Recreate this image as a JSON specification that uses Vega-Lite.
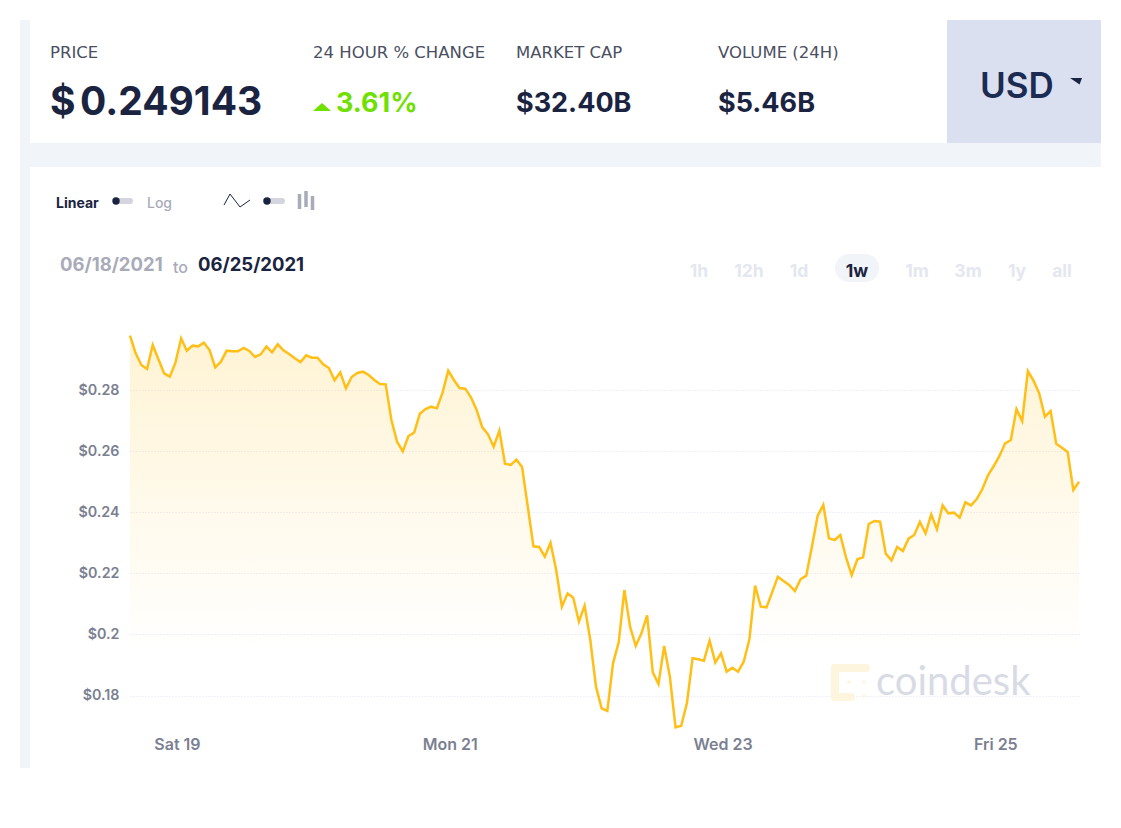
{
  "$schema": "https://vega.github.io/schema/vega-lite/v6.json",
  "width": 949,
  "height": 400,
  "autosize": "none",
  "padding": {"left": 130, "top": 330, "right": 42, "bottom": 98},
  "background": "white",
  "config": {"view": {"stroke": null}, "font": "Inter"},
  "datasets": {
    "page": [
      {"item": "strip", "kind": "panel"},
      {"item": "band", "kind": "panel"},
      {"item": "usdBox", "kind": "panel"},
      {"item": "scaleTrack", "kind": "track"},
      {"item": "typeTrack", "kind": "track"},
      {"item": "pill", "kind": "pill"},
      {"item": "bar1", "kind": "bars"},
      {"item": "bar2", "kind": "bars"},
      {"item": "bar3", "kind": "bars"},
      {"item": "logoTop", "kind": "logo"},
      {"item": "logoLeft", "kind": "logo"},
      {"item": "logoBottom", "kind": "logo"},
      {"item": "logoDot1", "kind": "logoDot"},
      {"item": "logoDot2", "kind": "logoDot"},
      {"item": "logoDot3", "kind": "logoDot"},
      {"item": "scaleDot", "kind": "dot"},
      {"item": "typeDot", "kind": "dot"},
      {"item": "changeUp", "kind": "up"},
      {"item": "usdCaret", "kind": "caret"},
      {"item": "lineIcon1", "kind": "lineIcon"},
      {"item": "lineIcon2", "kind": "lineIcon"},
      {"item": "lineIcon3", "kind": "lineIcon"},
      {"item": "lineIcon4", "kind": "lineIcon"},
      {"item": "PRICE", "kind": "statLabel"},
      {"item": "24 HOUR % CHANGE", "kind": "statLabel"},
      {"item": "MARKET CAP", "kind": "statLabel"},
      {"item": "VOLUME (24H)", "kind": "statLabel"},
      {"item": "$", "kind": "statPrice"},
      {"item": "0.249143", "kind": "statPrice"},
      {"item": "3.61%", "kind": "statChange"},
      {"item": "$32.40B", "kind": "statValue"},
      {"item": "$5.46B", "kind": "statValue"},
      {"item": "USD", "kind": "usd"},
      {"item": "Linear", "kind": "toggleOn"},
      {"item": "Log", "kind": "toggleOff"},
      {"item": "06/18/2021", "kind": "dateFrom"},
      {"item": "to", "kind": "dateTo"},
      {"item": "06/25/2021", "kind": "dateUntil"},
      {"item": "1h", "kind": "tab"},
      {"item": "12h", "kind": "tab"},
      {"item": "1d", "kind": "tab"},
      {"item": "1w", "kind": "tabOn"},
      {"item": "1m", "kind": "tab"},
      {"item": "3m", "kind": "tab"},
      {"item": "1y", "kind": "tab"},
      {"item": "all", "kind": "tab"},
      {"item": "coindesk", "kind": "logoText"}
    ],
    "price": [
      {"time": "2021-06-18T15:44:00Z", "price": 0.29779},
      {"time": "2021-06-18T16:44:00Z", "price": 0.2920},
      {"time": "2021-06-18T17:44:00Z", "price": 0.28818},
      {"time": "2021-06-18T18:44:00Z", "price": 0.28687},
      {"time": "2021-06-18T19:44:00Z", "price": 0.29473},
      {"time": "2021-06-18T20:44:00Z", "price": 0.29004},
      {"time": "2021-06-18T21:44:00Z", "price": 0.28546},
      {"time": "2021-06-18T22:44:00Z", "price": 0.28436},
      {"time": "2021-06-18T23:44:00Z", "price": 0.28895},
      {"time": "2021-06-19T00:44:00Z", "price": 0.29691},
      {"time": "2021-06-19T01:44:00Z", "price": 0.29287},
      {"time": "2021-06-19T02:44:00Z", "price": 0.29451},
      {"time": "2021-06-19T03:44:00Z", "price": 0.29429},
      {"time": "2021-06-19T04:44:00Z", "price": 0.29549},
      {"time": "2021-06-19T05:44:00Z", "price": 0.29309},
      {"time": "2021-06-19T06:44:00Z", "price": 0.28742},
      {"time": "2021-06-19T07:44:00Z", "price": 0.28927},
      {"time": "2021-06-19T08:44:00Z", "price": 0.29287},
      {"time": "2021-06-19T09:44:00Z", "price": 0.29266},
      {"time": "2021-06-19T10:44:00Z", "price": 0.29266},
      {"time": "2021-06-19T11:44:00Z", "price": 0.29375},
      {"time": "2021-06-19T12:44:00Z", "price": 0.29277},
      {"time": "2021-06-19T13:44:00Z", "price": 0.2908},
      {"time": "2021-06-19T14:44:00Z", "price": 0.29167},
      {"time": "2021-06-19T15:44:00Z", "price": 0.29429},
      {"time": "2021-06-19T16:44:00Z", "price": 0.29233},
      {"time": "2021-06-19T17:44:00Z", "price": 0.29495},
      {"time": "2021-06-19T18:44:00Z", "price": 0.29298},
      {"time": "2021-06-19T19:44:00Z", "price": 0.29178},
      {"time": "2021-06-19T20:44:00Z", "price": 0.29037},
      {"time": "2021-06-19T21:44:00Z", "price": 0.28917},
      {"time": "2021-06-19T22:44:00Z", "price": 0.29135},
      {"time": "2021-06-19T23:44:00Z", "price": 0.29058},
      {"time": "2021-06-20T00:44:00Z", "price": 0.29058},
      {"time": "2021-06-20T01:44:00Z", "price": 0.2884},
      {"time": "2021-06-20T02:44:00Z", "price": 0.2872},
      {"time": "2021-06-20T03:44:00Z", "price": 0.28316},
      {"time": "2021-06-20T04:44:00Z", "price": 0.28578},
      {"time": "2021-06-20T05:44:00Z", "price": 0.28055},
      {"time": "2021-06-20T06:44:00Z", "price": 0.28426},
      {"time": "2021-06-20T07:44:00Z", "price": 0.28556},
      {"time": "2021-06-20T08:44:00Z", "price": 0.286},
      {"time": "2021-06-20T09:44:00Z", "price": 0.28491},
      {"time": "2021-06-20T10:44:00Z", "price": 0.28327},
      {"time": "2021-06-20T11:44:00Z", "price": 0.28196},
      {"time": "2021-06-20T12:44:00Z", "price": 0.28185},
      {"time": "2021-06-20T13:44:00Z", "price": 0.27018},
      {"time": "2021-06-20T14:44:00Z", "price": 0.26309},
      {"time": "2021-06-20T15:44:00Z", "price": 0.25992},
      {"time": "2021-06-20T16:44:00Z", "price": 0.26494},
      {"time": "2021-06-20T17:44:00Z", "price": 0.26603},
      {"time": "2021-06-20T18:44:00Z", "price": 0.27225},
      {"time": "2021-06-20T19:44:00Z", "price": 0.27378},
      {"time": "2021-06-20T20:44:00Z", "price": 0.27454},
      {"time": "2021-06-20T21:44:00Z", "price": 0.274},
      {"time": "2021-06-20T22:44:00Z", "price": 0.27913},
      {"time": "2021-06-20T23:44:00Z", "price": 0.28633},
      {"time": "2021-06-21T00:44:00Z", "price": 0.28327},
      {"time": "2021-06-21T01:44:00Z", "price": 0.28065},
      {"time": "2021-06-21T02:44:00Z", "price": 0.28044},
      {"time": "2021-06-21T03:44:00Z", "price": 0.2776},
      {"time": "2021-06-21T04:44:00Z", "price": 0.27345},
      {"time": "2021-06-21T05:44:00Z", "price": 0.26778},
      {"time": "2021-06-21T06:44:00Z", "price": 0.26549},
      {"time": "2021-06-21T07:44:00Z", "price": 0.26145},
      {"time": "2021-06-21T08:44:00Z", "price": 0.26669},
      {"time": "2021-06-21T09:44:00Z", "price": 0.25589},
      {"time": "2021-06-21T10:44:00Z", "price": 0.25545},
      {"time": "2021-06-21T11:44:00Z", "price": 0.2572},
      {"time": "2021-06-21T12:44:00Z", "price": 0.2548},
      {"time": "2021-06-21T13:44:00Z", "price": 0.24181},
      {"time": "2021-06-21T14:44:00Z", "price": 0.22883},
      {"time": "2021-06-21T15:44:00Z", "price": 0.22861},
      {"time": "2021-06-21T16:44:00Z", "price": 0.22544},
      {"time": "2021-06-21T17:44:00Z", "price": 0.23003},
      {"time": "2021-06-21T18:44:00Z", "price": 0.22108},
      {"time": "2021-06-21T19:44:00Z", "price": 0.20908},
      {"time": "2021-06-21T20:44:00Z", "price": 0.21344},
      {"time": "2021-06-21T21:44:00Z", "price": 0.21202},
      {"time": "2021-06-21T22:44:00Z", "price": 0.20417},
      {"time": "2021-06-21T23:44:00Z", "price": 0.2094},
      {"time": "2021-06-22T00:44:00Z", "price": 0.19817},
      {"time": "2021-06-22T01:44:00Z", "price": 0.18289},
      {"time": "2021-06-22T02:44:00Z", "price": 0.1758},
      {"time": "2021-06-22T03:44:00Z", "price": 0.17493},
      {"time": "2021-06-22T04:44:00Z", "price": 0.19053},
      {"time": "2021-06-22T05:44:00Z", "price": 0.1974},
      {"time": "2021-06-22T06:44:00Z", "price": 0.21453},
      {"time": "2021-06-22T07:44:00Z", "price": 0.20253},
      {"time": "2021-06-22T08:44:00Z", "price": 0.1962},
      {"time": "2021-06-22T09:44:00Z", "price": 0.20035},
      {"time": "2021-06-22T10:44:00Z", "price": 0.20624},
      {"time": "2021-06-22T11:44:00Z", "price": 0.18758},
      {"time": "2021-06-22T12:44:00Z", "price": 0.18376},
      {"time": "2021-06-22T13:44:00Z", "price": 0.1962},
      {"time": "2021-06-22T14:44:00Z", "price": 0.18616},
      {"time": "2021-06-22T15:44:00Z", "price": 0.16958},
      {"time": "2021-06-22T16:44:00Z", "price": 0.17012},
      {"time": "2021-06-22T17:44:00Z", "price": 0.17744},
      {"time": "2021-06-22T18:44:00Z", "price": 0.19217},
      {"time": "2021-06-22T19:44:00Z", "price": 0.19184},
      {"time": "2021-06-22T20:44:00Z", "price": 0.1914},
      {"time": "2021-06-22T21:44:00Z", "price": 0.19795},
      {"time": "2021-06-22T22:44:00Z", "price": 0.19075},
      {"time": "2021-06-22T23:44:00Z", "price": 0.1938},
      {"time": "2021-06-23T00:44:00Z", "price": 0.1878},
      {"time": "2021-06-23T01:44:00Z", "price": 0.18911},
      {"time": "2021-06-23T02:44:00Z", "price": 0.1878},
      {"time": "2021-06-23T03:44:00Z", "price": 0.19107},
      {"time": "2021-06-23T04:44:00Z", "price": 0.19839},
      {"time": "2021-06-23T05:44:00Z", "price": 0.21595},
      {"time": "2021-06-23T06:44:00Z", "price": 0.20908},
      {"time": "2021-06-23T07:44:00Z", "price": 0.20886},
      {"time": "2021-06-23T08:44:00Z", "price": 0.21377},
      {"time": "2021-06-23T09:44:00Z", "price": 0.2189},
      {"time": "2021-06-23T10:44:00Z", "price": 0.21748},
      {"time": "2021-06-23T11:44:00Z", "price": 0.21617},
      {"time": "2021-06-23T12:44:00Z", "price": 0.21421},
      {"time": "2021-06-23T13:44:00Z", "price": 0.21803},
      {"time": "2021-06-23T14:44:00Z", "price": 0.21923},
      {"time": "2021-06-23T15:44:00Z", "price": 0.22872},
      {"time": "2021-06-23T16:44:00Z", "price": 0.23876},
      {"time": "2021-06-23T17:44:00Z", "price": 0.24236},
      {"time": "2021-06-23T18:44:00Z", "price": 0.23145},
      {"time": "2021-06-23T19:44:00Z", "price": 0.2309},
      {"time": "2021-06-23T20:44:00Z", "price": 0.23254},
      {"time": "2021-06-23T21:44:00Z", "price": 0.22523},
      {"time": "2021-06-23T22:44:00Z", "price": 0.21944},
      {"time": "2021-06-23T23:44:00Z", "price": 0.22457},
      {"time": "2021-06-24T00:44:00Z", "price": 0.22523},
      {"time": "2021-06-24T01:44:00Z", "price": 0.23614},
      {"time": "2021-06-24T02:44:00Z", "price": 0.23712},
      {"time": "2021-06-24T03:44:00Z", "price": 0.2369},
      {"time": "2021-06-24T04:44:00Z", "price": 0.22643},
      {"time": "2021-06-24T05:44:00Z", "price": 0.22424},
      {"time": "2021-06-24T06:44:00Z", "price": 0.22861},
      {"time": "2021-06-24T07:44:00Z", "price": 0.2273},
      {"time": "2021-06-24T08:44:00Z", "price": 0.23134},
      {"time": "2021-06-24T09:44:00Z", "price": 0.23254},
      {"time": "2021-06-24T10:44:00Z", "price": 0.23679},
      {"time": "2021-06-24T11:44:00Z", "price": 0.23308},
      {"time": "2021-06-24T12:44:00Z", "price": 0.2393},
      {"time": "2021-06-24T13:44:00Z", "price": 0.23439},
      {"time": "2021-06-24T14:44:00Z", "price": 0.24225},
      {"time": "2021-06-24T15:44:00Z", "price": 0.23963},
      {"time": "2021-06-24T16:44:00Z", "price": 0.23985},
      {"time": "2021-06-24T17:44:00Z", "price": 0.23821},
      {"time": "2021-06-24T18:44:00Z", "price": 0.24323},
      {"time": "2021-06-24T19:44:00Z", "price": 0.24225},
      {"time": "2021-06-24T20:44:00Z", "price": 0.24432},
      {"time": "2021-06-24T21:44:00Z", "price": 0.24759},
      {"time": "2021-06-24T22:44:00Z", "price": 0.25218},
      {"time": "2021-06-24T23:44:00Z", "price": 0.25512},
      {"time": "2021-06-25T00:44:00Z", "price": 0.2584},
      {"time": "2021-06-25T01:44:00Z", "price": 0.26254},
      {"time": "2021-06-25T02:44:00Z", "price": 0.26363},
      {"time": "2021-06-25T03:44:00Z", "price": 0.27378},
      {"time": "2021-06-25T04:44:00Z", "price": 0.26985},
      {"time": "2021-06-25T05:44:00Z", "price": 0.28622},
      {"time": "2021-06-25T06:44:00Z", "price": 0.28306},
      {"time": "2021-06-25T07:44:00Z", "price": 0.27891},
      {"time": "2021-06-25T08:44:00Z", "price": 0.27127},
      {"time": "2021-06-25T09:44:00Z", "price": 0.27313},
      {"time": "2021-06-25T10:44:00Z", "price": 0.26243},
      {"time": "2021-06-25T11:44:00Z", "price": 0.26112},
      {"time": "2021-06-25T12:44:00Z", "price": 0.25971},
      {"time": "2021-06-25T13:44:00Z", "price": 0.24727},
      {"time": "2021-06-25T14:44:00Z", "price": 0.24999}
    ]
  },
  "layer": [
    {
      "data": {"name": "page"},
      "transform": [
        {
          "calculate": "{'strip':[20,20,30,768],'band':[30,143,1101,167],'usdBox':[947,20,1101,143],'scaleTrack':[116,201,130,201],'typeTrack':[266,201,282,201],'pill':[849,268,865,268],'bar1':[299.5,194,299.5,209],'bar2':[306,191,306,207],'bar3':[312.5,196,312.5,210],'logoTop':[835,668,866,668],'logoLeft':[835,668,835,697],'logoBottom':[835,697,851,697],'logoDot1':[849,682],'logoDot2':[864,682],'logoDot3':[864,696],'scaleDot':[116,201],'typeDot':[267,201],'changeUp':[322,107],'usdCaret':[1076,81],'lineIcon1':[224,205],'lineIcon2':[230,194],'lineIcon3':[240,207],'lineIcon4':[250,200],'PRICE':[50,53],'24 HOUR % CHANGE':[313,53],'MARKET CAP':[516,53],'VOLUME (24H)':[718,53],'$':[50,103],'0.249143':[80,103],'3.61%':[336,104],'$32.40B':[516,104],'$5.46B':[718,104],'USD':[980,87],'Linear':[56,204],'Log':[147,204],'06/18/2021':[60,265],'to':[173,268],'06/25/2021':[198,265],'1h':[699,272],'12h':[749,272],'1d':[799,272],'1w':[857,272],'1m':[917,272],'3m':[968,272],'1y':[1017,272],'all':[1062,272],'coindesk':[876,695]}[datum.item]",
          "as": "layout"
        },
        {"calculate": "datum.layout[0]", "as": "px"},
        {"calculate": "datum.layout[1]", "as": "py"},
        {"calculate": "datum.layout[2]", "as": "px2"},
        {"calculate": "datum.layout[3]", "as": "py2"}
      ],
      "encoding": {
        "x": {"field": "px", "type": "quantitative", "axis": null, "scale": {"domain": [0, 1121], "range": [-130, 991], "nice": false, "zero": false}},
        "y": {"field": "py", "type": "quantitative", "axis": null, "scale": {"domain": [0, 828], "range": [-330, 498], "nice": false, "zero": false}}
      },
      "layer": [
        {
          "transform": [{"filter": "datum.kind == 'panel'"}],
          "mark": {"type": "rect"},
          "encoding": {
            "x2": {"field": "px2"},
            "y2": {"field": "py2"},
            "color": {"field": "item", "type": "nominal", "legend": null, "scale": {"domain": ["strip", "band", "usdBox"], "range": ["#f1f4f9", "#f1f4f9", "#dbe0f1"]}}
          }
        },
        {
          "transform": [{"filter": "datum.kind == 'track'"}],
          "mark": {"type": "rule", "color": "#d4d5de", "strokeWidth": 6, "strokeCap": "round"},
          "encoding": {"x2": {"field": "px2"}, "y2": {"field": "py2"}}
        },
        {
          "transform": [{"filter": "datum.kind == 'pill'"}],
          "mark": {"type": "rule", "color": "#f1f4f9", "strokeWidth": 28, "strokeCap": "round"},
          "encoding": {"x2": {"field": "px2"}, "y2": {"field": "py2"}}
        },
        {
          "transform": [{"filter": "datum.kind == 'bars'"}],
          "mark": {"type": "rule", "color": "#a9abb9", "strokeWidth": 3.5},
          "encoding": {"x2": {"field": "px2"}, "y2": {"field": "py2"}}
        },
        {
          "transform": [{"filter": "datum.kind == 'logo'"}],
          "mark": {"type": "rule", "color": "#fef5de", "strokeWidth": 8, "strokeCap": "round"},
          "encoding": {"x2": {"field": "px2"}, "y2": {"field": "py2"}}
        },
        {
          "transform": [{"filter": "datum.kind == 'logoDot'"}],
          "mark": {"type": "point", "shape": "circle", "filled": true, "color": "#fef5de", "opacity": 1, "size": 14}
        },
        {
          "transform": [{"filter": "datum.kind == 'dot'"}],
          "mark": {"type": "point", "shape": "circle", "filled": true, "color": "#1a2340", "opacity": 1, "size": 55}
        },
        {
          "transform": [{"filter": "datum.kind == 'up'"}],
          "mark": {"type": "point", "shape": "M-1,0.45L0,-0.45L1,0.45Z", "filled": true, "color": "#6fe000", "opacity": 1, "size": 324}
        },
        {
          "transform": [{"filter": "datum.kind == 'caret'"}],
          "mark": {"type": "point", "shape": "M-1,-0.5L1,-0.5L0.6,0.6Z", "filled": true, "color": "#1a2340", "opacity": 1, "size": 144}
        },
        {
          "transform": [{"filter": "datum.kind == 'lineIcon'"}],
          "mark": {"type": "line", "color": "#1a2340", "strokeWidth": 1}
        },
        {
          "transform": [{"filter": "datum.kind == 'statLabel'"}],
          "mark": {"type": "text", "align": "left", "baseline": "middle", "font": "DejaVu Sans", "fontSize": 16.5, "color": "#4a4f62"},
          "encoding": {"text": {"field": "item"}}
        },
        {
          "transform": [{"filter": "datum.kind == 'statPrice'"}],
          "mark": {"type": "text", "align": "left", "baseline": "middle", "fontSize": 39, "fontWeight": 700, "color": "#1a2340"},
          "encoding": {"text": {"field": "item"}}
        },
        {
          "transform": [{"filter": "datum.kind == 'statChange'"}],
          "mark": {"type": "text", "align": "left", "baseline": "middle", "fontSize": 27, "fontWeight": 700, "color": "#6fe000"},
          "encoding": {"text": {"field": "item"}}
        },
        {
          "transform": [{"filter": "datum.kind == 'statValue'"}],
          "mark": {"type": "text", "align": "left", "baseline": "middle", "fontSize": 27, "fontWeight": 700, "color": "#1a2340"},
          "encoding": {"text": {"field": "item"}}
        },
        {
          "transform": [{"filter": "datum.kind == 'usd'"}],
          "mark": {"type": "text", "align": "left", "baseline": "middle", "fontSize": 35, "fontWeight": 600, "color": "#1c2b52"},
          "encoding": {"text": {"field": "item"}}
        },
        {
          "transform": [{"filter": "datum.kind == 'toggleOn'"}],
          "mark": {"type": "text", "align": "left", "baseline": "middle", "fontSize": 14, "fontWeight": 700, "color": "#1a2340"},
          "encoding": {"text": {"field": "item"}}
        },
        {
          "transform": [{"filter": "datum.kind == 'toggleOff'"}],
          "mark": {"type": "text", "align": "left", "baseline": "middle", "fontSize": 14, "fontWeight": 500, "color": "#a9abb9"},
          "encoding": {"text": {"field": "item"}}
        },
        {
          "transform": [{"filter": "datum.kind == 'dateFrom'"}],
          "mark": {"type": "text", "align": "left", "baseline": "middle", "fontSize": 18.5, "fontWeight": 700, "color": "#a9abb9"},
          "encoding": {"text": {"field": "item"}}
        },
        {
          "transform": [{"filter": "datum.kind == 'dateTo'"}],
          "mark": {"type": "text", "align": "left", "baseline": "middle", "fontSize": 16, "fontWeight": 500, "color": "#a9abb9"},
          "encoding": {"text": {"field": "item"}}
        },
        {
          "transform": [{"filter": "datum.kind == 'dateUntil'"}],
          "mark": {"type": "text", "align": "left", "baseline": "middle", "fontSize": 18.5, "fontWeight": 700, "color": "#1a2340"},
          "encoding": {"text": {"field": "item"}}
        },
        {
          "transform": [{"filter": "datum.kind == 'tab'"}],
          "mark": {"type": "text", "align": "center", "baseline": "middle", "fontSize": 17.5, "fontWeight": 700, "color": "#e4e7ef"},
          "encoding": {"text": {"field": "item"}}
        },
        {
          "transform": [{"filter": "datum.kind == 'tabOn'"}],
          "mark": {"type": "text", "align": "center", "baseline": "middle", "fontSize": 17.5, "fontWeight": 700, "color": "#1a2340"},
          "encoding": {"text": {"field": "item"}}
        },
        {
          "transform": [{"filter": "datum.kind == 'logoText'"}],
          "mark": {"type": "text", "align": "left", "baseline": "alphabetic", "font": "Lato", "fontSize": 40, "color": "#d8dbe5"},
          "encoding": {"text": {"field": "item"}}
        }
      ]
    },
    {
      "data": {"name": "price"},
      "encoding": {
        "x": {
          "field": "time",
          "type": "temporal",
          "title": null,
          "scale": {"type": "utc", "domain": ["2021-06-18T15:44:00Z", "2021-06-25T14:44:00Z"]},
          "axis": {
            "values": ["2021-06-19T00:00:00Z", "2021-06-21T00:00:00Z", "2021-06-23T00:00:00Z", "2021-06-25T00:00:00Z"],
            "format": "%a %d",
            "formatType": "utc",
            "grid": false,
            "ticks": false,
            "domain": false,
            "labelPadding": 6,
            "labelFont": "Inter",
            "labelFontSize": 16,
            "labelFontWeight": 600,
            "labelColor": "#7b7f91"
          }
        },
        "y": {
          "field": "price",
          "type": "quantitative",
          "title": null,
          "scale": {"domain": [0.16871, 0.29964], "nice": false, "zero": false},
          "axis": {
            "values": [0.18, 0.2, 0.22, 0.24, 0.26, 0.28],
            "format": "$.2~f",
            "ticks": false,
            "domain": false,
            "labelPadding": 11,
            "labelFont": "Inter",
            "labelFontSize": 14.3,
            "labelFontWeight": 600,
            "labelColor": "#7b7f91",
            "grid": true,
            "gridColor": "#dfe3f0",
            "gridDash": [1, 2]
          }
        }
      },
      "layer": [
        {
          "mark": {
            "type": "area",
            "color": {
              "gradient": "linear",
              "x1": 0, "y1": 0, "x2": 0, "y2": 1,
              "stops": [
                {"offset": 0, "color": "rgba(254,190,16,0.18)"},
                {"offset": 0.8, "color": "rgba(254,190,16,0)"}
              ]
            }
          },
          "encoding": {"y2": {"datum": 0.16871}}
        },
        {"mark": {"type": "line", "color": "#ffbf17", "strokeWidth": 2.5}}
      ]
    }
  ],
  "resolve": {"scale": {"x": "independent", "y": "independent"}}
}
